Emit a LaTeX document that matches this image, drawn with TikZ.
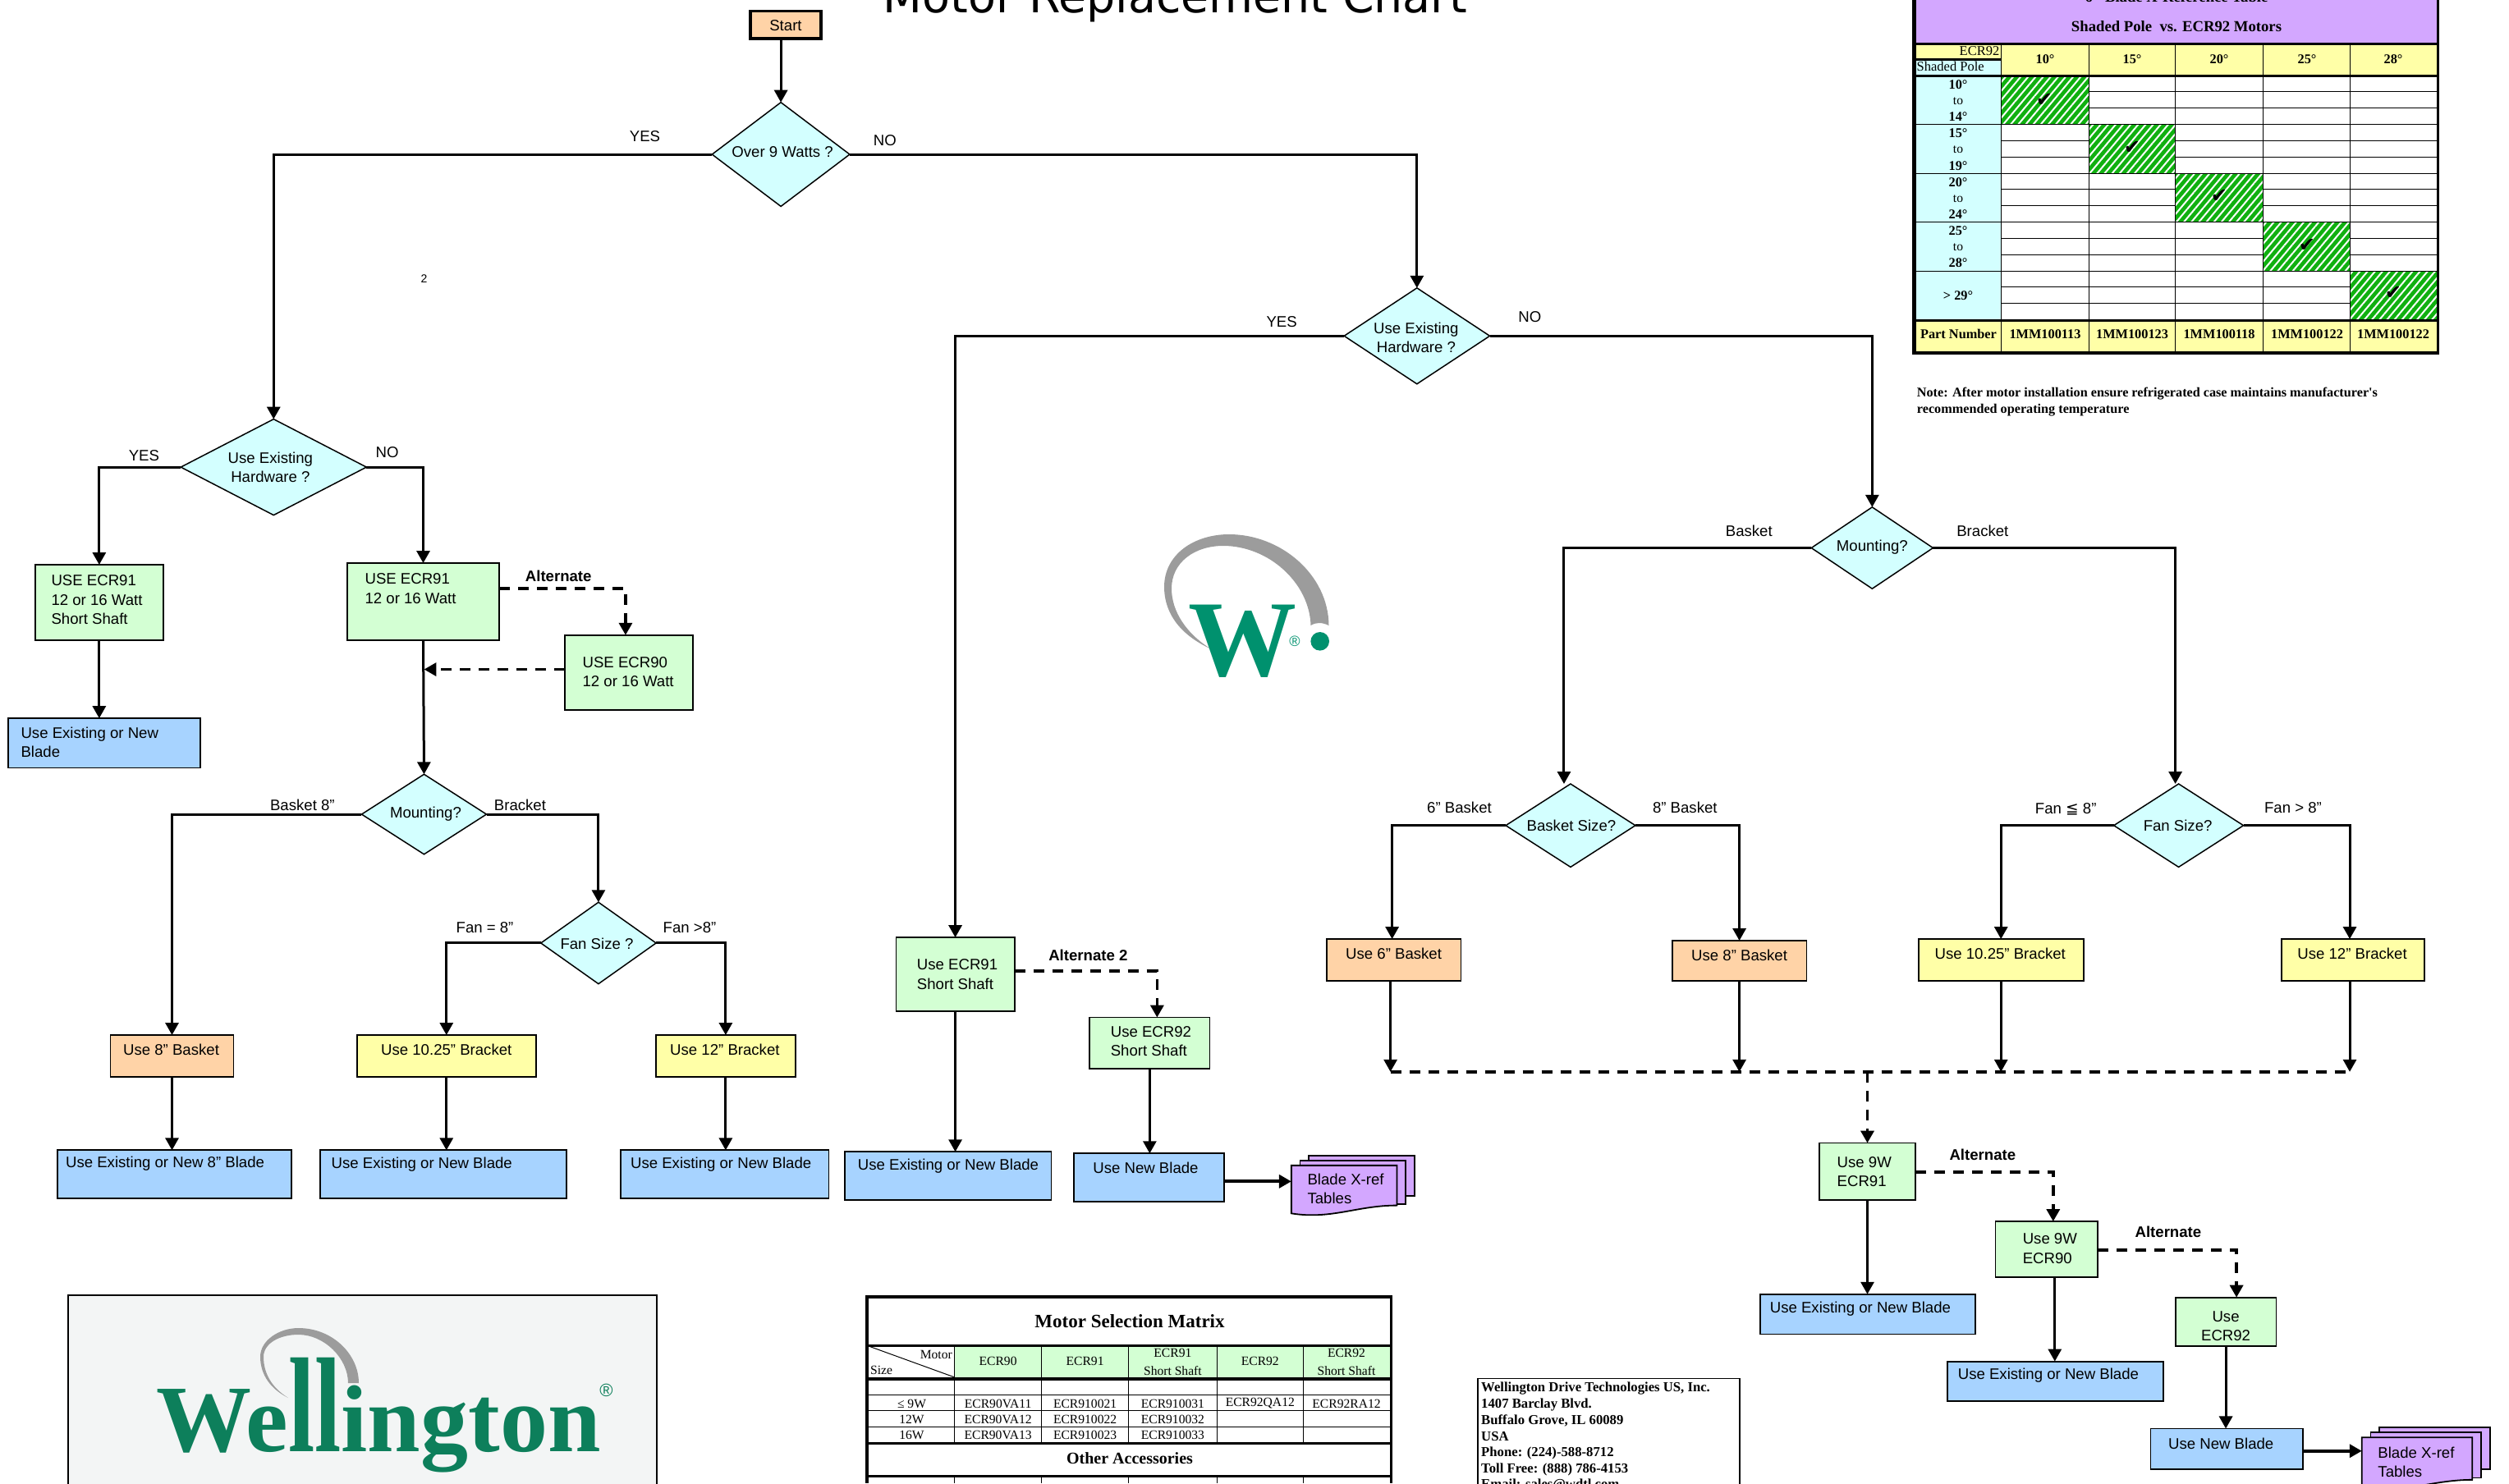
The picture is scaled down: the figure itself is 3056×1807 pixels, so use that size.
\documentclass[tikz,border=0pt]{standalone}
\usepackage{fontspec}
\setmainfont{Liberation Sans}
\newfontfamily\tms{Liberation Serif}
\newfontfamily\djv{DejaVu Sans}
\usetikzlibrary{arrows.meta,shapes.geometric,patterns.meta,calc}
\definecolor{cgreen}{HTML}{D3FFD3}
\definecolor{ccyan}{HTML}{D3FFFF}
\definecolor{cblue}{HTML}{A7D3FF}
\definecolor{cyell}{HTML}{FFFFA7}
\definecolor{cpeach}{HTML}{FFD3A7}
\definecolor{cpurp}{HTML}{D3A7FF}
\definecolor{hatchg}{HTML}{10B010}
\definecolor{logog}{HTML}{00916E}
\definecolor{logod}{HTML}{0D7F5B}
\definecolor{logoy}{HTML}{9C9C9C}
\definecolor{logobg}{HTML}{F3F5F5}
\tikzset{
  fbox/.style={draw=black,line width=1.8pt,rectangle,inner sep=0pt,outer sep=0pt},
  gbox/.style={fbox,fill=cgreen},
  bbox/.style={fbox,fill=cblue},
  ybox/.style={fbox,fill=cyell},
  pbox/.style={fbox,fill=cpeach},
  dia/.style={draw=black,line width=1.5pt,diamond,aspect=1,inner sep=0pt,outer sep=0pt,fill=ccyan},
  txt/.style={font=\fontsize{18.6}{23.4}\selectfont,inner sep=0pt,align=left},
  bt/.style={txt,font=\fontsize{18.6}{23.4}\selectfont\bfseries},
  ar/.style={line width=3pt,-{Triangle[length=15pt,width=16pt]}},
  ln/.style={line width=3pt},
  dar/.style={line width=3.5pt,dash pattern=on 13pt off 10pt,-{Triangle[length=15pt,width=16pt]}},
  dln/.style={line width=3.5pt,dash pattern=on 13pt off 10pt},
  page/.style={draw=black,line width=1.8pt,fill=cpurp},
  tb/.style={font=\fontsize{16.3}{20}\selectfont\tms\bfseries,inner sep=0pt},
  tr/.style={font=\fontsize{15.6}{20}\selectfont\tms,inner sep=0pt},
  thin line/.style={line width=1pt},
  hatch/.style={preaction={fill=hatchg},pattern={Lines[angle=50,distance=7pt,line width=2pt]},pattern color=white},
}
\newcommand{\flowbox}[6]{%
  \pgfmathsetlengthmacro\bw{(#5-#3)*1.949}%
  \pgfmathsetlengthmacro\bh{(#6-#4)*1.949}%
  \node[#1,minimum width=\bw,minimum height=\bh] (#2) at ({(#3+#5)/2},{(#4+#6)/2}) {};}
\newcommand{\stack}[9]{%
  \draw[page] (#1+#5+#5,#3-#6-#6) rectangle (#2+#5+#5,#4-#6-#6-5);
  \draw[page] (#1+#5,#3-#6) rectangle (#2+#5,#4-#6-3);
  \draw[page] (#1,#3) -- (#2,#3) -- (#2,#4-5) .. controls (#2-25,#4-5) and (#1+25,#4+4) .. (#1,#4) -- cycle;
  \coordinate (#7) at (#1,#8);
  \node[txt,anchor=west] (#7t) at (#1+10,#9) {Blade X-ref\\Tables};}
\begin{document}
\begin{tikzpicture}[x=1.949pt,y=-1.949pt]
\useasboundingbox (0pt,0pt) rectangle (3056pt,-1807pt);
\clip (0pt,0pt) rectangle (3056pt,-1807pt);

% title
\node[inner sep=0pt,anchor=base,font=\fontsize{55.4}{60}\selectfont\djv] (title) at (734.5,8) {Motor Replacement Chart};
\node[txt,font=\fontsize{14}{16}\selectfont] (two) at (265,174) {2};

% decision diamonds
\flowbox{pbox,line width=3.5pt}{start}{469}{7}{513}{24}
\flowbox{dia}{d1}{445}{64}{531}{129}
\flowbox{dia}{d2}{113}{262}{229}{322}
\flowbox{dia}{d3}{840}{180}{931}{240}
\flowbox{dia}{m1}{226}{484}{304}{534}
\flowbox{dia}{f1}{338}{564}{410}{615}
\flowbox{dia}{m2}{1132}{317}{1208}{368}
\flowbox{dia}{bs}{941}{490}{1022}{542}
\flowbox{dia}{f2}{1321}{490}{1402}{542}

% boxes, left branch
\flowbox{gbox}{a1}{22}{353}{102}{400}
\flowbox{bbox}{a2}{5}{449}{125}{480}
\flowbox{gbox}{a3}{217}{352}{312}{400}
\flowbox{gbox}{a4}{353}{397}{433}{444}
\flowbox{pbox}{a5}{69}{647}{146}{673}
\flowbox{ybox}{a6}{223}{647}{335}{673}
\flowbox{ybox}{a7}{410}{647}{497}{673}
\flowbox{bbox}{a8}{36}{719}{182}{749}
\flowbox{bbox}{a9}{200}{719}{354}{749}
\flowbox{bbox}{a10}{388}{719}{518}{749}
% middle
\flowbox{gbox}{b1}{560}{586}{634}{632}
\flowbox{gbox}{b2}{681}{636}{756}{668}
\flowbox{bbox}{b3}{528}{720}{657}{750}
\flowbox{bbox}{b4}{671}{721}{765}{751}
% right
\flowbox{pbox}{c1}{829}{587}{913}{613}
\flowbox{pbox}{c2}{1045}{588}{1129}{613}
\flowbox{ybox}{c3}{1199}{587}{1302}{613}
\flowbox{ybox}{c4}{1426}{587}{1515}{613}
\flowbox{gbox}{e1}{1137}{714.5}{1197}{750}
\flowbox{bbox}{e2}{1100}{809}{1234.5}{834}
\flowbox{gbox}{e3}{1247}{763.5}{1311}{798.5}
\flowbox{bbox}{e4}{1217}{851}{1352}{876}
\flowbox{gbox}{e5}{1359.5}{811}{1422.5}{841.5}
\flowbox{bbox}{e6}{1344}{893}{1439}{918.5}

% stacks
\stack{807}{873}{728.5}{758.5}{5.5}{3}{s1}{738.5}{743}
\stack{1476}{1545}{898.5}{930}{5.5}{3.2}{s2}{907}{914}

% bus coordinates
\coordinate (busL) at (869,670);
\coordinate (busR) at (1468,670);

% solid connectors
\draw[ar] (d1.north |- start.south) -- (d1.north);
\draw[ar] (d1.west) -| (d2.north);
\draw[ar] (d1.east) -| (d3.north);
\draw[ar] (d2.west) -| (a1.north);
\draw[ar] (d2.east) -| (a3.north);
\draw[ar] (a1.south) -- (a2.north -| a1.south);
\draw[ar] (a3.south) -- (m1.north);
\draw[ar] (m1.west) -| (a5.north);
\draw[ar] (m1.east) -| (f1.north);
\draw[ar] (f1.west) -| (a6.north);
\draw[ar] (f1.east) -| (a7.north);
\draw[ar] (a5.south) -- (a8.north -| a5.south);
\draw[ar] (a6.south) -- (a9.north -| a6.south);
\draw[ar] (a7.south) -- (a10.north -| a7.south);
\draw[ar] (d3.west) -| (b1.north);
\draw[ar] (d3.east) -| (m2.north);
\draw[ar] (b1.south) -- (b3.north -| b1.south);
\draw[ar] (b2.south) -- (b4.north -| b2.south);
\draw[ar,line width=4pt] (b4.east |- s1) -- (s1);
\draw[ar] (m2.west) -| ([xshift=-8pt]bs.north);
\draw[ar] (m2.east) -| ([xshift=-4pt]f2.north);
\draw[ar] (bs.west) -| ([xshift=-2pt]c1.north);
\draw[ar] (bs.east) -| (c2.north);
\draw[ar] (f2.west) -| (c3.north);
\draw[ar] (f2.east) -| ([xshift=-4pt]c4.north);
\draw[ar] ([xshift=-4pt]c1.south) -- ([xshift=-4pt]c1.south |- busL);
\draw[ar] (c2.south) -- (c2.south |- busL);
\draw[ar] (c3.south) -- (c3.south |- busL);
\draw[ar] ([xshift=-4pt]c4.south) -- ([xshift=-4pt]c4.south |- busL);
\draw[ar] (e1.south) -- (e1.south |- e2.north);
\draw[ar] ([xshift=10pt]e3.south) -- ([xshift=10pt]e3.south |- e4.north);
\draw[ar] (e5.south) -- (e5.south |- e6.north);
\draw[ar,line width=4pt] (e6.east |- s2) -- (s2);

% dashed connectors
\draw[dar] ([yshift=15.6pt]a3.east) -| ([xshift=-4pt]a4.north);
\draw[dar] ([yshift=4pt]a4.west) -- ([yshift=4pt]a4.west -| m1.north);
\draw[dar] ([yshift=4pt]b1.east) -| ([xshift=9pt]b2.north);
\draw[dln] (busL) -- (busR);
\draw[dar] (e1.north |- busL) -- (e1.north);
\draw[dar] ([yshift=-1pt]e1.east) -| ([xshift=8pt]e3.north);
\draw[dar] ([yshift=-1pt]e3.east) -| ([xshift=13pt]e5.north);

% diamond text
\node[txt,align=center] (d1t) at (489,95) {Over 9 Watts ?};
\node[txt,align=center] (d2t) at (169,292) {Use Existing\\Hardware ?};
\node[txt,align=center] (d3t) at (885,211) {Use Existing\\Hardware ?};
\node[txt] (m1t) at (266,509) {Mounting?};
\node[txt] (f1t) at (373,590) {Fan Size ?};
\node[txt] (m2t) at (1170,342) {Mounting?};
\node[txt] (bst) at (982,516) {Basket Size?};
\node[txt] (f2t) at (1361,516) {Fan Size?};
\node[txt] (startt) at (491,16) {Start};

% box text
\node[txt,anchor=west] (a1t) at (32,375) {USE ECR91\\12 or 16 Watt\\Short Shaft};
\node[txt,anchor=west] (a2t) at (13,464) {Use Existing or New\\Blade};
\node[txt,anchor=west] (a3t) at (228,368) {USE ECR91\\12 or 16 Watt};
\node[txt,anchor=west] (a4t) at (364,420) {USE ECR90\\12 or 16 Watt};
\node[txt] (a5t) at (107,656) {Use 8" Basket};
\node[txt] (a6t) at (279,656) {Use 10.25" Bracket};
\node[txt] (a7t) at (453,656) {Use 12" Bracket};
\node[txt,anchor=west] (a8t) at (41,727.5) {Use Existing or New 8" Blade};
\node[txt,anchor=west] (a9t) at (207,728) {Use Existing or New Blade};
\node[txt,anchor=west] (a10t) at (394,728) {Use Existing or New Blade};
\node[txt,anchor=west] (b1t) at (573,609) {Use ECR91\\Short Shaft};
\node[txt,anchor=west] (b2t) at (694,651) {Use ECR92\\Short Shaft};
\node[txt,anchor=west] (b3t) at (536,729) {Use Existing or New Blade};
\node[txt,anchor=west] (b4t) at (683,730) {Use New Blade};
\node[txt] (c1t) at (871,596) {Use 6" Basket};
\node[txt] (c2t) at (1087,597) {Use 8" Basket};
\node[txt] (c3t) at (1250,596) {Use 10.25" Bracket};
\node[txt] (c4t) at (1470,596) {Use 12" Bracket};
\node[txt,anchor=west] (e1t) at (1148,732.5) {Use 9W\\ECR91};
\node[txt,anchor=west] (e2t) at (1106,818) {Use Existing or New Blade};
\node[txt,anchor=west] (e3t) at (1264,780.5) {Use 9W\\ECR90};
\node[txt,anchor=west] (e4t) at (1223.5,860) {Use Existing or New Blade};
\node[txt,align=center] (e5t) at (1391,829) {Use\\ECR92};
\node[txt,anchor=west] (e6t) at (1355,902.5) {Use New Blade};

% connector labels
\node[txt] (l1) at (403,85) {YES};
\node[txt] (l2) at (553,88) {NO};
\node[txt] (l3) at (801,201) {YES};
\node[txt] (l4) at (956,198) {NO};
\node[txt] (l5) at (90,285) {YES};
\node[txt] (l6) at (242,283) {NO};
\node[txt] (l7) at (189,503) {Basket 8"};
\node[txt] (l8) at (325,503) {Bracket};
\node[txt] (l9) at (303,580) {Fan = 8"};
\node[txt] (l10) at (431,580) {Fan >8"};
\node[txt] (l11) at (912,505) {6" Basket};
\node[txt] (l12) at (1053,505) {8" Basket};
\node[txt] (l13) at (1291,506) {Fan {\djv ≦} 8"};
\node[txt] (l14) at (1433,505) {Fan > 8"};
\node[txt] (l15) at (1093,332) {Basket};
\node[txt] (l16) at (1239,332) {Bracket};
\node[bt] (l17) at (349,360) {Alternate};
\node[bt] (l18) at (680,597) {Alternate 2};
\node[bt] (l19) at (1239,722) {Alternate};
\node[bt] (l20) at (1355,770) {Alternate};

% ---- reference pixels
\begin{scope}[x=1pt,y=-1pt]
% centre logo
\fill[logoy] (1475,790.7) .. controls (1430,770) and (1418,740) .. (1418,715)
  .. controls (1418,675) and (1455,651) .. (1497,651)
  .. controls (1560,651) and (1618,700) .. (1618.5,762)
  .. controls (1610,758) and (1603,758) .. (1596.5,762)
  .. controls (1595,710) and (1545,665) .. (1490,665)
  .. controls (1455,665) and (1427,685) .. (1427,717)
  .. controls (1427,745) and (1445,772) .. (1475,790.7) -- cycle;
\node[inner sep=0pt,anchor=base,text=logog,font=\fontsize{132}{132}\selectfont\tms\bfseries] (wl) at (1513.7,823) {W};
\fill[logog] (1607.7,781.3) circle (11.3);
\node[inner sep=0pt,text=logog,font=\fontsize{18}{18}\selectfont] (wr) at (1577,781) {®};

% bottom-left logo
\fill[draw=black,line width=1.5pt,fill=logobg] (83,1578) rectangle (800,1830);
\fill[logoy] (351,1703) .. controls (325,1690) and (317,1670) .. (317,1653)
  .. controls (317,1633) and (340,1618) .. (363.5,1618)
  .. controls (405,1618) and (437,1650) .. (437,1685) -- (424,1685)
  .. controls (424,1655) and (395,1626) .. (363.5,1626)
  .. controls (340,1626) and (321,1637) .. (321,1653)
  .. controls (321,1672) and (330,1690) .. (351,1703) -- cycle;
\node[inner sep=0pt,anchor=base west,text=logod,font=\fontsize{116}{116}\selectfont\tms\bfseries] (wlarge) at (190,1768) {We\scalebox{1}[1.42]{ll}ington};
\node[inner sep=0pt,text=logod,font=\fontsize{22}{22}\selectfont] (wlr) at (738.5,1694) {®};

% motor matrix
\fill[cgreen] (1162.8,1640.7) rectangle (1692.5,1678);
\draw[line width=4pt] (1054,1580) -- (1696,1580);
\draw[line width=4pt] (1056,1578) -- (1056,1807);
\draw[line width=3.5pt] (1694.3,1582) -- (1694.3,1807);
\draw[line width=3.5pt] (1058,1639.3) -- (1692.5,1639.3);
\draw[line width=4pt] (1058,1680) -- (1692.5,1680);
\draw[line width=3.5pt] (1058,1758.3) -- (1692.5,1758.3);
\draw[line width=3.5pt] (1058,1798.5) -- (1692.5,1798.5);
\foreach \yy in {1699.3,1718.3,1738.3}
  \draw[thin line] (1058,\yy) -- (1692.5,\yy);
\foreach \xx in {1162.8,1268.4,1374.8,1482,1587.6}{
  \draw[thin line] (\xx,1640.7) -- (\xx,1678);
  \draw[thin line] (\xx,1682) -- (\xx,1757);
  \draw[thin line] (\xx,1800) -- (\xx,1807);}
\draw[thin line] (1060,1640.7) -- (1162.8,1678);
\node[tb,font=\fontsize{23}{26}\selectfont\tms\bfseries] (mt) at (1376,1609.5) {Motor Selection Matrix};
\node[tb,font=\fontsize{20}{24}\selectfont\tms\bfseries] (oa) at (1376,1777) {Other Accessories};
\node[tr,anchor=east] (hm) at (1160,1650) {Motor};
\node[tr,anchor=west] (hs) at (1060,1669) {Size};
\node[tr] (h1) at (1215.6,1658) {ECR90};
\node[tr] (h2) at (1321.6,1658) {ECR91};
\node[tr,align=center,font=\fontsize{15.6}{22}\selectfont\tms] (h3) at (1428.4,1659) {ECR91\\Short Shaft};
\node[tr] (h4) at (1534.8,1658) {ECR92};
\node[tr,align=center,font=\fontsize{15.6}{22}\selectfont\tms] (h5) at (1640,1659) {ECR92\\Short Shaft};
\foreach \xx/\yy/\tt/\nm in {
  1110.5/1710/{≤ 9W}/r1, 1215.6/1710/ECR90VA11/r2, 1321.6/1710/ECR910021/r3, 1428.4/1710/ECR910031/r4, 1534.8/1710/ECR92QA12/r5, 1640/1710/ECR92RA12/r6,
  1110.5/1729.5/12W/r7, 1215.6/1729.5/ECR90VA12/r8, 1321.6/1729.5/ECR910022/r9, 1428.4/1729.5/ECR910032/r10,
  1110.5/1748/16W/r11, 1215.6/1748/ECR90VA13/r12, 1321.6/1748/ECR910023/r13, 1428.4/1748/ECR910033/r14}
  \node[tr] (\nm) at (\xx,\yy) {\tt};

% address
\draw[line width=1.5pt] (1800,1830) -- (1800,1679.3) -- (2119,1679.3) -- (2119,1830);
\foreach \yy/\tt/\nm in {1691.5/{Wellington Drive Technologies US, Inc.}/ad1, 1711.5/{1407 Barclay Blvd.}/ad2, 1730.5/{Buffalo Grove, IL 60089}/ad3, 1750/USA/ad4, 1770/{Phone: (224)-588-8712}/ad5, 1790/{Toll Free: (888) 786-4153}/ad6, 1809.5/{Email: sales@wdtl.com}/ad7}
  \node[inner sep=0pt,anchor=west,font=\fontsize{16.7}{20}\selectfont\tms\bfseries] (\nm) at (1804,\yy) {\tt};
\end{scope}

% blade table
\begin{scope}[x=1pt,y=-1.0135pt]
\fill[cpurp] (2334,-2) rectangle (2968,51);
\fill[cyell] (2437.4,54) rectangle (2968,90);
\fill[cyell] (2334,54) rectangle (2437.4,70);
\fill[ccyan] (2334,72.7) rectangle (2437.4,90);
\fill[ccyan] (2334,92.5) rectangle (2437.4,383.5);
\fill[cyell] (2334,386) rectangle (2968,422);
\foreach \xa/\xb/\ya/\yb in {2437.4/2544/92.5/149.3, 2544/2649.6/149.3/208.3, 2649.6/2756.6/208.3/266.7, 2756.6/2862.7/266.7/325.7, 2862.7/2967.8/325.7/383.5}
  \path[hatch] (\xa,\ya) rectangle (\xb,\yb);
\foreach \yy/\xa/\xb in {109.7/2544/2968,129.7/2544/2968,169/2437.4/2544,169/2649.6/2968,188.7/2437.4/2544,188.7/2649.6/2968,
   227/2437.4/2649.6,227/2756.6/2968,247/2437.4/2649.6,247/2756.6/2968,
   286.3/2437.4/2756.6,286.3/2862.7/2968,306/2437.4/2756.6,306/2862.7/2968,
   345.3/2437.4/2862.7,364.3/2437.4/2862.7}
  \draw[thin line] (\xa,\yy) -- (\xb,\yy);
\foreach \yy in {149.3,208.3,266.7,325.7}
  \draw[thin line] (2334,\yy) -- (2968,\yy);
\foreach \xx in {2437.4,2544,2649.6,2756.6,2862.7}{
  \draw[thin line] (\xx,54) -- (\xx,422);}
\fill (2329,0) rectangle (2334,426);
\fill (2968,0) rectangle (2971,426);
\fill (2334,51) rectangle (2968,54);
\fill (2334,90) rectangle (2968,92.5);
\fill (2334,70) rectangle (2437.4,72.7);
\fill (2334,383.5) rectangle (2968,386.3);
\fill (2334,422) rectangle (2971,426);
\node[tb,font=\fontsize{18.7}{22}\selectfont\tms\bfseries,anchor=base] (bt0) at (2651,2) {6" Blade X-Reference Table};
\node[tb,font=\fontsize{18.7}{22}\selectfont\tms\bfseries] (bt1) at (2651,32) {Shaded Pole\ \ vs. ECR92 Motors};
\node[tr,anchor=east,font=\fontsize{16.5}{20}\selectfont\tms] (be) at (2435.5,61) {ECR92};
\node[tr,anchor=west,font=\fontsize{16.5}{20}\selectfont\tms] (bs2) at (2334.5,80) {Shaded Pole};
\foreach \xx/\tt/\nm in {2491/10/g1,2597/15/g2,2703/20/g3,2810/25/g4,2915/28/g5}
  \node[tb] (\nm) at (\xx,71) {\tt°};
\foreach \xx/\yy/\nm in {2490/120/k1,2597/178/k2,2703/236/k3,2810/295/k4,2915/352/k5}
  \node[inner sep=0pt,font=\fontsize{24}{24}\selectfont\djv] (\nm) at (\xx,\yy) {✔};
\foreach \yy/\tt/\nm in {101.7/10°/p1,140/14°/p2,160/15°/p3,199/19°/p4,219/20°/p5,258/24°/p6,277/25°/p7,316/28°/p8,355.7/> 29°/p9}
  \node[tb] (\nm) at (2385,\yy) {\tt};
\foreach \yy/\nm in {121.7/t1,180/t2,239/t3,297/t4}
  \node[tr] (\nm) at (2385,\yy) {to};
\node[tb] (pn) at (2385.5,402) {Part Number};
\foreach \xx/\tt/\nm in {2491/1MM100113/q1,2597/1MM100123/q2,2703/1MM100118/q3,2810/1MM100122/q4,2915/1MM100122/q5}
  \node[tb] (\nm) at (\xx,402) {\tt};
\node[inner sep=0pt,anchor=west,align=left,font=\fontsize{16.2}{20.3}\selectfont\tms\bfseries] (note) at (2334.7,483) {Note: After motor installation ensure refrigerated case maintains manufacturer's\\recommended operating temperature};
\end{scope}
\end{tikzpicture}
\end{document}
